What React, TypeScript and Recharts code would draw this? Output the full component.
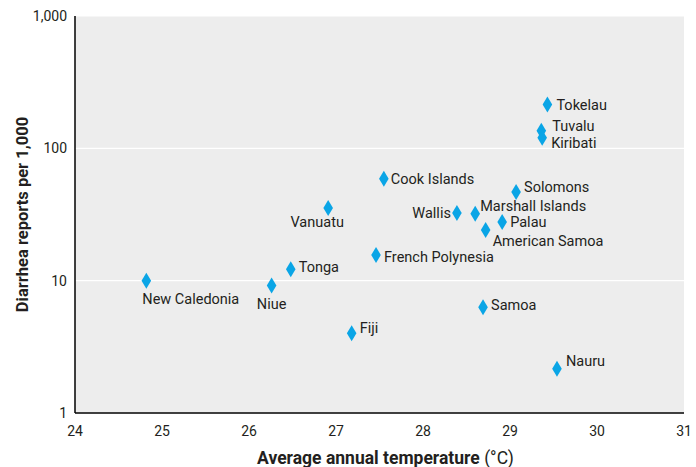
import { ScatterChart, Scatter, XAxis, YAxis, CartesianGrid } from 'recharts';

const islands = [
  'New Caledonia', 'Niue', 'Tonga', 'Vanuatu', 'Cook Islands', 'French Polynesia', 'Fiji',
  'Wallis', 'Marshall Islands', 'American Samoa', 'Palau', 'Solomons', 'Samoa', 'Nauru',
  'Tokelau', 'Tuvalu', 'Kiribati',
];
const temperatures = [
  24.82, 26.26, 26.48, 26.91, 27.55, 27.46, 27.18,
  28.39, 28.6, 28.72, 28.91, 29.07, 28.69, 29.54,
  29.43, 29.36, 29.37,
];
const diarrheaRates = [
  10, 9.2, 12.2, 35.4, 58.8, 15.6, 4.0,
  32.4, 32, 24.1, 27.7, 46.8, 6.3, 2.16,
  214, 136, 120,
];
const xTicks = [24, 25, 26, 27, 28, 29, 30, 31];
const yTicks = [1, 10, 100, 1000];

const points = islands.map((name, i) => ({ name, temp: temperatures[i], rate: diarrheaRates[i] }));

// where each name sits relative to its marker
const labelPlacement: Record<string, { dx: number; dy: number; anchor: string }> = {
  'New Caledonia': { dx: -4, dy: 18, anchor: 'start' },
  Niue: { dx: 0, dy: 18, anchor: 'middle' },
  Tonga: { dx: 8, dy: -2, anchor: 'start' },
  Vanuatu: { dx: -11, dy: 14, anchor: 'middle' },
  'Cook Islands': { dx: 7, dy: 0, anchor: 'start' },
  'French Polynesia': { dx: 8, dy: 2, anchor: 'start' },
  Fiji: { dx: 8, dy: -5, anchor: 'start' },
  Wallis: { dx: -6, dy: 0, anchor: 'end' },
  'Marshall Islands': { dx: 5, dy: -8, anchor: 'start' },
  'American Samoa': { dx: 7, dy: 11, anchor: 'start' },
  Palau: { dx: 8, dy: 0, anchor: 'start' },
  Solomons: { dx: 8, dy: -5, anchor: 'start' },
  Samoa: { dx: 8, dy: -2, anchor: 'start' },
  Nauru: { dx: 9, dy: -8, anchor: 'start' },
  Tokelau: { dx: 9, dy: 0, anchor: 'start' },
  Tuvalu: { dx: 11, dy: -5, anchor: 'start' },
  Kiribati: { dx: 9, dy: 5, anchor: 'start' },
};

const FONT = 'Roboto, "Liberation Sans", sans-serif';
const TEXT = '#231f20';
const BLUE = '#0aa5e6';

function Diamond(props: any) {
  const { cx, cy, payload } = props;
  if (cx == null || cy == null) return null;
  const p = labelPlacement[payload.name] || { dx: 8, dy: 0, anchor: 'start' };
  return (
    <g>
      <polygon
        points={`${cx},${cy - 8} ${cx + 4.8},${cy} ${cx},${cy + 8} ${cx - 4.8},${cy}`}
        fill={BLUE}
      />
      <text
        x={cx + p.dx}
        y={cy + p.dy}
        dy="0.35em"
        textAnchor={p.anchor}
        fontFamily={FONT}
        fontSize={14.5}
        fill={TEXT}
      >
        {payload.name}
      </text>
    </g>
  );
}

function XTitle(props: any) {
  const { viewBox } = props;
  const cx = viewBox.x + viewBox.width / 2;
  return (
    <text x={cx + 6} y={464} textAnchor="middle" fontFamily={FONT} fontSize={17.5} fill={TEXT}>
      <tspan fontWeight="bold">Average annual temperature </tspan>
      <tspan>(°C)</tspan>
    </text>
  );
}

function YTitle(props: any) {
  const { viewBox } = props;
  const cy = viewBox.y + viewBox.height / 2;
  return (
    <text
      x={22}
      y={cy}
      transform={`rotate(-90, 22, ${cy})`}
      dy="0.35em"
      textAnchor="middle"
      fontFamily={FONT}
      fontSize={16.5}
      fontWeight="bold"
      fill={TEXT}
    >
      Diarrhea reports per 1,000
    </text>
  );
}

export default function App() {
  return (
    <div style={{ position: 'absolute', left: 0, top: 0, background: '#fff' }}>
      <ScatterChart width={696} height={467} margin={{ top: 16, right: 12, left: 20, bottom: 24 }}>
        <CartesianGrid vertical={false} stroke="#ffffff" strokeWidth={1.2} fill="#ededed" />
        <XAxis
          type="number"
          dataKey="temp"
          domain={[24, 31]}
          ticks={xTicks}
          allowDataOverflow
          height={30}
          tickLine={false}
          tickMargin={7}
          axisLine={{ stroke: '#000', strokeWidth: 1.5 }}
          tick={{ fill: TEXT, fontSize: 14, fontFamily: FONT }}
          label={<XTitle />}
        />
        <YAxis
          type="number"
          dataKey="rate"
          scale="log"
          domain={[1, 1000]}
          ticks={yTicks}
          allowDataOverflow
          width={55}
          tickLine={false}
          axisLine={{ stroke: '#000', strokeWidth: 1.5 }}
          tick={{ fill: TEXT, fontSize: 14, fontFamily: FONT }}
          tickFormatter={(v: number) => v.toLocaleString('en-US')}
          label={<YTitle />}
        />
        <Scatter data={points} shape={<Diamond />} isAnimationActive={false} />
      </ScatterChart>
    </div>
  );
}
